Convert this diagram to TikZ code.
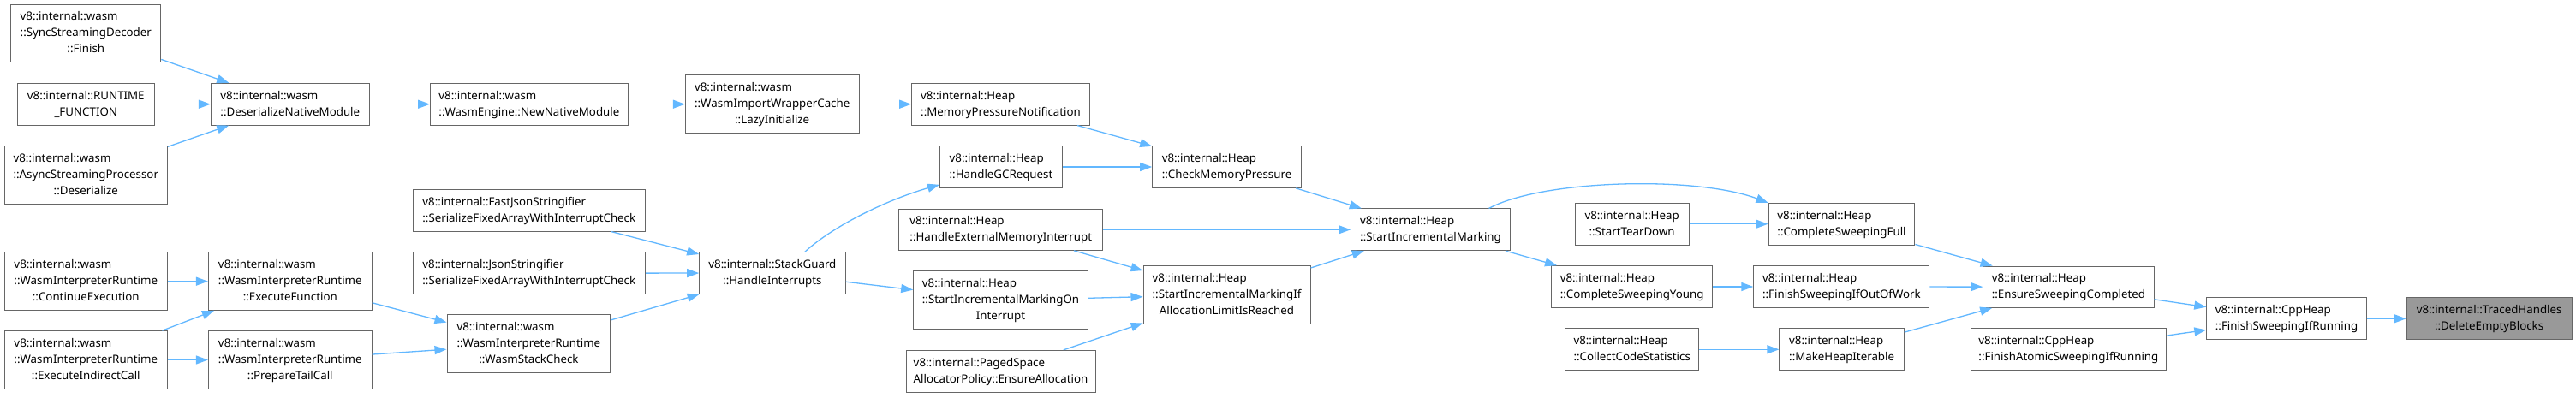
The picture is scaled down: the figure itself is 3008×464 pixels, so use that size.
\documentclass[tikz,border=0pt]{standalone}
\usepackage{fontspec}
\setmainfont{Noto Sans}
\usetikzlibrary{arrows.meta}
\definecolor{edgec}{HTML}{63B8FF}
\definecolor{boxc}{HTML}{666666}
\definecolor{grayfill}{HTML}{999999}
\newcommand{\boxtext}[2]{\begin{tabular}{@{}l@{}}#1\\\multicolumn{1}{@{}c@{}}{#2}\end{tabular}}
\begin{document}
\begin{tikzpicture}[x=1pt,y=-1pt,
  box/.style={draw=boxc, fill=white, line width=1pt, inner sep=0pt,
    font=\fontsize{13.3}{19}\selectfont},
  curbox/.style={box, fill=grayfill},
  edge/.style={draw=edgec, line width=1.3pt, -{Triangle[length=14pt,width=10pt]}},
]
\useasboundingbox[fill=white] (0,0) rectangle (3008,464);

\node[box, minimum width=175pt, minimum height=67.7pt] (A) at (100.3,38.9) {\boxtext{v8::internal::wasm\\::SyncStreamingDecoder}{::Finish}};
\node[box, minimum width=159.7pt, minimum height=48.7pt] (B) at (100.3,121.7) {\boxtext{v8::internal::RUNTIME}{\_FUNCTION}};
\node[box, minimum width=190.3pt, minimum height=67.7pt] (C) at (100.3,204.5) {\boxtext{v8::internal::wasm\\::AsyncStreamingProcessor}{::Deserialize}};
\node[box, minimum width=184.7pt, minimum height=48.7pt] (D) at (338.8,121.7) {\boxtext{v8::internal::wasm}{::DeserializeNativeModule}};
\node[box, minimum width=230.6pt, minimum height=48.7pt] (E) at (617.9,121.7) {\boxtext{v8::internal::wasm}{::WasmEngine::NewNativeModule}};
\node[box, minimum width=202.6pt, minimum height=68pt] (F) at (901.7,121.7) {\boxtext{v8::internal::wasm\\::WasmImportWrapperCache}{::LazyInitialize}};
\node[box, minimum width=207.6pt, minimum height=48.7pt] (G) at (1168.5,121.7) {\boxtext{v8::internal::Heap}{::MemoryPressureNotification}};
\node[box, minimum width=143pt, minimum height=48.7pt] (H) at (1169,195) {\boxtext{v8::internal::Heap}{::HandleGCRequest}};
\node[box, minimum width=173.6pt, minimum height=48.7pt] (I) at (1432.5,195) {\boxtext{v8::internal::Heap}{::CheckMemoryPressure}};
\node[box, minimum width=271.6pt, minimum height=48.5pt] (J) at (617.8,245.8) {\boxtext{v8::internal::FastJsonStringifier}{::SerializeFixedArrayWithInterruptCheck}};
\node[box, minimum width=271.6pt, minimum height=48.5pt] (K) at (617.8,319.2) {\boxtext{v8::internal::JsonStringifier}{::SerializeFixedArrayWithInterruptCheck}};
\node[box, minimum width=190.3pt, minimum height=67.5pt] (L) at (100.3,328.7) {\boxtext{v8::internal::wasm\\::WasmInterpreterRuntime}{::ContinueExecution}};
\node[box, minimum width=190.8pt, minimum height=67.5pt] (M) at (338.8,328.7) {\boxtext{v8::internal::wasm\\::WasmInterpreterRuntime}{::ExecuteFunction}};
\node[box, minimum width=190.3pt, minimum height=67.6pt] (N) at (100.3,420.5) {\boxtext{v8::internal::wasm\\::WasmInterpreterRuntime}{::ExecuteIndirectCall}};
\node[box, minimum width=190.8pt, minimum height=67.6pt] (O) at (338.8,420.5) {\boxtext{v8::internal::wasm\\::WasmInterpreterRuntime}{::PrepareTailCall}};
\node[box, minimum width=190.8pt, minimum height=68pt] (P) at (617.4,401.7) {\boxtext{v8::internal::wasm\\::WasmInterpreterRuntime}{::WasmStackCheck}};
\node[box, minimum width=170.4pt, minimum height=48.6pt] (Q) at (901.9,319) {\boxtext{v8::internal::StackGuard}{::HandleInterrupts}};
\node[box, minimum width=237.8pt, minimum height=48.3pt] (R) at (1168.8,268.2) {\boxtext{v8::internal::Heap}{::HandleExternalMemoryInterrupt}};
\node[box, minimum width=203.6pt, minimum height=67.7pt] (S) at (1168.5,350.8) {\boxtext{v8::internal::Heap\\::StartIncrementalMarkingOn}{Interrupt}};
\node[box, minimum width=195pt, minimum height=67.5pt] (T) at (1432.5,344.3) {\boxtext{v8::internal::Heap\\::StartIncrementalMarkingIf}{AllocationLimitIsReached}};
\node[box, minimum width=221pt, minimum height=48.7pt] (U) at (1168.5,433.7) {\boxtext{v8::internal::PagedSpace}{AllocatorPolicy::EnsureAllocation}};
\node[box, minimum width=185.6pt, minimum height=48.7pt] (V) at (1670.5,268.3) {\boxtext{v8::internal::Heap}{::StartIncrementalMarking}};
\node[box, minimum width=133.2pt, minimum height=48.7pt] (W) at (1905.6,261.7) {\boxtext{v8::internal::Heap}{::StartTearDown}};
\node[box, minimum width=170.9pt, minimum height=48.7pt] (X) at (2150.5,261.7) {\boxtext{v8::internal::Heap}{::CompleteSweepingFull}};
\node[box, minimum width=188.3pt, minimum height=48.7pt] (Y) at (1905.6,335) {\boxtext{v8::internal::Heap}{::CompleteSweepingYoung}};
\node[box, minimum width=205.1pt, minimum height=48.7pt] (Z) at (2150.4,335) {\boxtext{v8::internal::Heap}{::FinishSweepingIfOutOfWork}};
\node[box, minimum width=155.6pt, minimum height=48.7pt] (AA) at (1905.7,408.3) {\boxtext{v8::internal::Heap}{::CollectCodeStatistics}};
\node[box, minimum width=145.4pt, minimum height=48.7pt] (AB) at (2150.6,408.3) {\boxtext{v8::internal::Heap}{::MakeHeapIterable}};
\node[box, minimum width=199.2pt, minimum height=48.3pt] (AC) at (2415.4,335.2) {\boxtext{v8::internal::Heap}{::EnsureSweepingCompleted}};
\node[box, minimum width=228.8pt, minimum height=49pt] (AD) at (2415.4,408.2) {\boxtext{v8::internal::CppHeap}{::FinishAtomicSweepingIfRunning}};
\node[box, minimum width=186.4pt, minimum height=48.7pt] (AE) at (2670,372.3) {\boxtext{v8::internal::CppHeap}{::FinishSweepingIfRunning}};
\node[curbox, minimum width=192.8pt, minimum height=48.7pt] (AF) at (2906.6,372.3) {\boxtext{v8::internal::TracedHandles}{::DeleteEmptyBlocks}};

\draw[edge] (A) -- (D);
\draw[edge] (B) -- (D);
\draw[edge] (C) -- (D);
\draw[edge] (D) -- (E);
\draw[edge] (E) -- (F);
\draw[edge] (F) -- (G);
\draw[edge] (G) -- (I);
\draw[edge] (H) -- (I);
\draw[edge] (I) -- (V);
\draw[edge] ([xshift=38pt]Q.north) .. controls (975,262) and (1040,232) .. ([yshift=4pt]H.south west);
\draw[edge] (Q) -- (S);
\draw[edge] (J) -- (Q);
\draw[edge] (K) -- (Q);
\draw[edge] (P) -- (Q);
\draw[edge] (L) -- (M);
\draw[edge] (N) -- (M);
\draw[edge] (N) -- (O);
\draw[edge] (M) -- (P);
\draw[edge] (O) -- (P);
\draw[edge] (R) -- (V);
\draw[edge] (R) -- (T);
\draw[edge] (S) -- (T);
\draw[edge] (U) -- (T);
\draw[edge] (T) -- (V);
\draw[edge] ([xshift=68pt]V.north) .. controls (1800,210) and (1980,205) .. (X.north west);
\draw[edge] (V) -- (Y);
\draw[edge] (W) -- (X);
\draw[edge] (Y) -- (Z);
\draw[edge] (X) -- (AC);
\draw[edge] (Z) -- (AC);
\draw[edge] (AA) -- (AB);
\draw[edge] (AB) -- (AC);
\draw[edge] (AC) -- (AE);
\draw[edge] (AD) -- (AE);
\draw[edge] (AE) -- (AF);
\end{tikzpicture}
\end{document}
